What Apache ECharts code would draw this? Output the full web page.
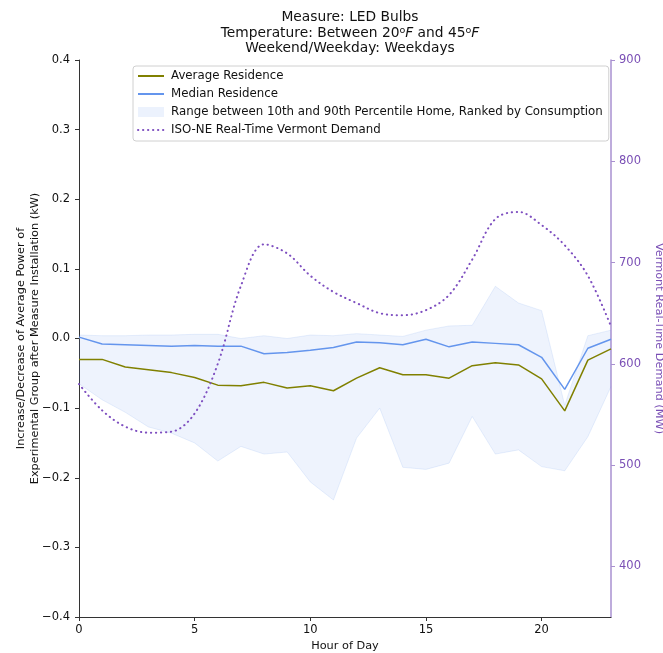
<!DOCTYPE html>
<html>
<head>
<meta charset="utf-8">
<script src="https://cdn.jsdelivr.net/npm/echarts@6/dist/echarts.min.js"></script>
<style>
  html, body { margin: 0; padding: 0; background: #fff; }
  #chart { width: 663px; height: 653px; }
</style>
</head>
<body>
<div id="chart"></div>
<script>
// Hour of day 0..23
const hours = [0,1,2,3,4,5,6,7,8,9,10,11,12,13,14,15,16,17,18,19,20,21,22,23];

// Average change in power per residence (kW)
const averageResidence = [-0.030,-0.030,-0.041,-0.045,-0.049,-0.056,-0.067,-0.068,-0.063,-0.071,-0.068,-0.075,-0.057,-0.042,-0.052,-0.052,-0.057,-0.039,-0.035,-0.038,-0.058,-0.104,-0.031,-0.015];

// Median change in power per residence (kW)
const medianResidence = [0.002,-0.008,-0.009,-0.010,-0.011,-0.010,-0.011,-0.011,-0.022,-0.020,-0.017,-0.013,-0.005,-0.006,-0.009,-0.001,-0.012,-0.005,-0.007,-0.009,-0.027,-0.073,-0.014,-0.001];

// 10th and 90th percentile homes (kW)
const percentile90 = [0.005,0.004,0.004,0.005,0.005,0.006,0.006,0.000,0.004,0.000,0.005,0.004,0.007,0.005,0.003,0.012,0.018,0.019,0.075,0.051,0.040,-0.096,0.004,0.012];
const percentile10 = [-0.065,-0.088,-0.106,-0.127,-0.136,-0.150,-0.176,-0.155,-0.166,-0.163,-0.206,-0.232,-0.143,-0.100,-0.185,-0.188,-0.179,-0.112,-0.166,-0.160,-0.184,-0.190,-0.141,-0.069];

// ISO-NE real-time Vermont demand (MW)
const vermontDemand = [580,554,538,532,533,551,600,677,718,709,687,671,660,650,648,653,668,703,743,750,737,717,687,637];

// Right axis tick labels
const demandTicks = [400,500,600,700,800,900];

const font = 'DejaVu Sans';
const purple = '#7a4fb5';
const bandFill = 'rgba(100,149,237,0.11)';
const bandEdge = 'rgba(100,149,237,0.14)';

// Width of the percentile band, stacked on top of the 10th percentile
const spread = hours.map((h, i) => +(percentile90[i] - percentile10[i]).toFixed(4));
const fmtLeft = v => (v < 0 ? '\u2212' : '') + Math.abs(v).toFixed(1);

const chart = echarts.init(document.getElementById('chart'), null, { renderer: 'canvas' });

chart.setOption({
  animation: false,
  backgroundColor: '#fff',
  textStyle: { fontFamily: font },
  title: {
    text: 'Measure: LED Bulbs\nTemperature: Between 20{sup|o}{it|F} and 45{sup|o}{it|F}\nWeekend/Weekday: Weekdays',
    left: 345,
    textAlign: 'center',
    top: 5,
    textStyle: {
      fontFamily: font, fontSize: 13.8, fontWeight: 'normal', color: '#111', lineHeight: 15.5,
      rich: {
        sup: { fontFamily: font, fontSize: 9.5, verticalAlign: 'top', lineHeight: 15.5, padding: [0, 0, 6, 0], color: '#111' },
        it: { fontFamily: font, fontSize: 13.8, fontStyle: 'italic', lineHeight: 15.5, color: '#111' }
      }
    }
  },
  legend: {
    orient: 'vertical',
    left: 133,
    top: 66,
    padding: [4, 6, 5, 4],
    itemWidth: 26,
    itemHeight: 10,
    itemGap: 6,
    borderColor: '#d0d0d0',
    borderWidth: 1,
    borderRadius: 3,
    backgroundColor: '#fff',
    textStyle: { fontFamily: font, fontSize: 11.8, color: '#111', padding: [0, 0, 0, 2] },
    data: [
      { name: 'Average Residence', itemStyle: { opacity: 0 } },
      { name: 'Median Residence', itemStyle: { opacity: 0 } },
      { name: 'Range between 10th and 90th Percentile Home, Ranked by Consumption', icon: 'rect', itemStyle: { color: 'rgba(100,149,237,0.12)', borderWidth: 0, opacity: 1 } },
      { name: 'ISO-NE Real-Time Vermont Demand', itemStyle: { opacity: 0 } }
    ]
  },
  grid: { left: 79, right: 52, top: 60, bottom: 36, containLabel: false, outerBoundsMode: 'none' },
  xAxis: {
    type: 'category',
    data: hours,
    boundaryGap: false,
    name: 'Hour of Day',
    nameLocation: 'middle',
    nameGap: 24,
    nameTextStyle: { fontFamily: font, fontSize: 11.3, color: '#111' },
    axisLine: { show: true, onZero: false, lineStyle: { color: '#333', width: 1 } },
    axisTick: { show: true, length: 4, interval: 4, lineStyle: { color: '#333' } },
    axisLabel: { fontFamily: font, fontSize: 11.5, color: '#111', margin: 7, interval: 4 },
    splitLine: { show: false }
  },
  yAxis: [
    {
      type: 'value',
      min: -0.4, max: 0.4, interval: 0.1,
      position: 'left',
      name: 'Increase/Decrease of Average Power of\nExperimental Group after Measure Installation (kW)',
      nameLocation: 'middle',
      nameGap: 37,
      nameMoveOverlap: false,
      nameTextStyle: { fontFamily: font, fontSize: 11.3, color: '#111', lineHeight: 14 },
      axisLine: { show: true, onZero: false, lineStyle: { color: '#333', width: 1 } },
      axisTick: { show: true, length: 4, lineStyle: { color: '#333' } },
      axisLabel: { fontFamily: font, fontSize: 11.5, color: '#111', margin: 9, formatter: fmtLeft },
      splitLine: { show: false }
    },
    {
      type: 'value',
      min: 350, max: 900,
      position: 'right',
      name: 'Vermont Real-Time Demand (MW)',
      nameLocation: 'middle',
      nameRotate: -90,
      nameGap: 42,
      nameTextStyle: { fontFamily: font, fontSize: 11.3, color: purple },
      axisLine: { show: true, onZero: false, lineStyle: { color: '#a990d0', width: 1.5 } },
      axisTick: { show: true, length: 4, customValues: demandTicks, lineStyle: { color: '#a990d0' } },
      axisLabel: { fontFamily: font, fontSize: 11.5, color: purple, margin: 8, customValues: demandTicks },
      splitLine: { show: false }
    }
  ],
  series: [
    {
      name: 'bandBase',
      type: 'line',
      yAxisIndex: 0,
      stack: 'band',
      stackStrategy: 'all',
      data: percentile10,
      symbol: 'none',
      lineStyle: { width: 1, color: bandEdge },
      silent: true,
      z: 1
    },
    {
      name: 'Range between 10th and 90th Percentile Home, Ranked by Consumption',
      type: 'line',
      yAxisIndex: 0,
      stack: 'band',
      stackStrategy: 'all',
      data: spread,
      symbol: 'none',
      lineStyle: { width: 1, color: bandEdge },
      itemStyle: { color: 'rgba(100,149,237,0.12)' },
      areaStyle: { color: bandFill, opacity: 1 },
      z: 1
    },
    {
      name: 'Average Residence',
      type: 'line',
      yAxisIndex: 0,
      data: averageResidence,
      symbol: 'none',
      lineStyle: { width: 1.5, color: '#808000' },
      itemStyle: { color: '#808000' },
      z: 3
    },
    {
      name: 'Median Residence',
      type: 'line',
      yAxisIndex: 0,
      data: medianResidence,
      symbol: 'none',
      lineStyle: { width: 1.5, color: '#6495ed' },
      itemStyle: { color: '#6495ed' },
      z: 3
    },
    {
      name: 'ISO-NE Real-Time Vermont Demand',
      type: 'line',
      yAxisIndex: 1,
      data: vermontDemand,
      symbol: 'none',
      smooth: 0.35,
      lineStyle: { width: 2, color: '#7e4fc0', type: [0.3, 4.7], cap: 'round' },
      itemStyle: { color: '#7e4fc0' },
      z: 4
    }
  ]
});
</script>
</body>
</html>
